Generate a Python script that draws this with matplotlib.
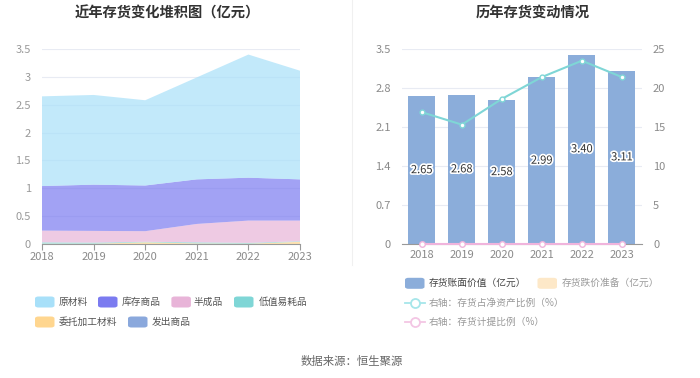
import matplotlib
matplotlib.use("Agg")
import matplotlib.pyplot as plt
from matplotlib.patches import FancyBboxPatch
from matplotlib.lines import Line2D
import matplotlib.patheffects as pe

plt.rcParams['font.family'] = ['Noto Sans CJK SC', 'DejaVu Sans']

# 数据
years = [2018, 2019, 2020, 2021, 2022, 2023]
yuancailiao = [1.61, 1.61, 1.53, 1.83, 2.21, 1.95]      # 原材料
kucun_shangpin = [0.80, 0.83, 0.82, 0.80, 0.77, 0.74]   # 库存商品
banchengpin = [0.21, 0.21, 0.19, 0.33, 0.40, 0.37]      # 半成品
dizhi_yihao = [0.025, 0.02, 0.01, 0.02, 0.015, 0.01]    # 低值易耗品
weituo_jiagong = [0.005, 0.005, 0.03, 0.01, 0.005, 0.04]  # 委托加工材料
fachu_shangpin = [0.0, 0.0, 0.0, 0.0, 0.0, 0.0]         # 发出商品

zhangmian = [2.65, 2.68, 2.58, 2.99, 3.40, 3.11]        # 存货账面价值（亿元）
dieja = [0, 0, 0, 0, 0, 0]                              # 存货跌价准备（亿元）
zhanbi = [16.9, 15.3, 18.6, 21.4, 23.5, 21.4]           # 存货占净资产比例（%）
jiti = [0, 0, 0, 0, 0, 0]                               # 存货计提比例（%）

area_names = ['原材料', '库存商品', '半成品', '低值易耗品', '委托加工材料', '发出商品']
area_colors = ['#a8e0f9', '#7b7bf0', '#e8b4d8', '#7fd6d6', '#ffd68f', '#8aa8dc']

grid_c = '#e8ebf3'
tick_c = '#8a8a8a'

fig = plt.figure(figsize=(7, 3.78), dpi=100)

# 左图：堆积面积
ax1 = fig.add_axes([0.06, 0.3545, 0.3686, 0.5159])
series = [yuancailiao, kucun_shangpin, banchengpin, dizhi_yihao, weituo_jiagong, fachu_shangpin]
ax1.stackplot(years, series[::-1], colors=area_colors[::-1], alpha=0.7, linewidth=0)
ax1.set_xlim(2018, 2023)
ax1.set_ylim(0, 3.5)
ax1.set_xticks(years)
ax1.set_yticks([0, 0.5, 1, 1.5, 2, 2.5, 3, 3.5])
ax1.set_yticklabels(['0', '0.5', '1', '1.5', '2', '2.5', '3', '3.5'])
ax1.grid(axis='y', color=grid_c, linewidth=0.8)
ax1.set_axisbelow(True)
for s in ['top', 'right', 'left']:
    ax1.spines[s].set_visible(False)
ax1.spines['bottom'].set_color('#999999')
ax1.tick_params(axis='y', length=0, labelsize=8, colors='#999999', pad=8)
ax1.tick_params(axis='x', length=4, color='#999999', labelsize=8, labelcolor=tick_c, pad=2)

# 右图：柱状 + 折线
ax2 = fig.add_axes([0.574, 0.3545, 0.343, 0.5159])
x = range(len(years))
bars = ax2.bar(x, zhangmian, width=0.68, color='#8badda', zorder=2)
for i, v in enumerate(zhangmian):
    ax2.text(i, v / 2, f'{v:.2f}', ha='center', va='center', fontsize=8, color='#333333',
             path_effects=[pe.withStroke(linewidth=2.4, foreground='white')], zorder=5)
ax2.set_xlim(-0.5, 5.5)
ax2.set_ylim(0, 3.5)
ax2.set_yticks([0, 0.7, 1.4, 2.1, 2.8, 3.5])
ax2.set_yticklabels(['0', '0.7', '1.4', '2.1', '2.8', '3.5'])
ax2.set_xticks(list(x))
ax2.set_xticklabels([str(y) for y in years])
ax2.grid(axis='y', color=grid_c, linewidth=0.8)
ax2.set_axisbelow(True)
for s in ['top', 'right', 'left']:
    ax2.spines[s].set_visible(False)
ax2.spines['bottom'].set_color('#999999')
ax2.tick_params(axis='y', length=0, labelsize=8, colors=tick_c, pad=8)
ax2.tick_params(axis='x', length=0, labelsize=8, labelcolor=tick_c, pad=4)

ax3 = ax2.twinx()
ax3.plot(list(x), zhanbi, color='#7fd6d6', linewidth=1.5, marker='o', markersize=3.5,
         markerfacecolor='white', markeredgecolor='#7fd6d6', zorder=4)
ax3.plot(list(x), jiti, color='#f0b4dc', linewidth=1.5, marker='o', markersize=4,
         markerfacecolor='white', markeredgecolor='#f0b4dc', zorder=4, clip_on=False)
ax3.set_ylim(0, 25)
ax3.set_yticks([0, 5, 10, 15, 20, 25])
for s in ['top', 'right', 'left', 'bottom']:
    ax3.spines[s].set_visible(False)
ax3.tick_params(axis='y', length=0, labelsize=8, colors=tick_c, pad=8)

# 标题
fig.text(167 / 700, 1 - 13 / 378, '近年存货变化堆积图（亿元）', ha='center', va='center',
         fontsize=10.3, fontweight='bold', color='#333333')
fig.text(533 / 700, 1 - 13 / 378, '历年存货变动情况', ha='center', va='center',
         fontsize=10.3, fontweight='bold', color='#333333')

# 分隔线
fig.add_artist(Line2D([352 / 700, 352 / 700], [1, 1 - 265 / 378], color='#f0f0f0', linewidth=0.8))


def swatch(px, py, color, w=19.5, h=11):
    fig.add_artist(FancyBboxPatch((px / 700, 1 - (py + h / 2) / 378), w / 700, h / 378,
                                  boxstyle='round,pad=0,rounding_size=0.005',
                                  facecolor=color, edgecolor='none', transform=fig.transFigure))


def label(px, py, txt, color='#555555'):
    fig.text(px / 700, 1 - py / 378, txt, ha='left', va='center', fontsize=7, color=color)


# 左图图例
left_items = [(35, 302, 59), (98, 302, 122), (171.4, 302, 194), (234, 302, 258.4),
              (35, 322, 59), (128, 322, 151.6)]
for (sx, sy, tx), name, c in zip(left_items, area_names, area_colors):
    swatch(sx, sy, c)
    label(tx, sy, name)

# 右图图例
swatch(405, 283.3, '#8badda')
label(428.4, 283.3, '存货账面价值（亿元）', '#444444')
swatch(537.5, 283.3, '#fde8c8')
label(562, 283.3, '存货跌价准备（亿元）', '#999999')
for py, c, txt in [(303.3, '#a6e6ea', '右轴：存货占净资产比例（%）'),
                   (322.3, '#f3c6e4', '右轴：存货计提比例（%）')]:
    fig.add_artist(Line2D([405 / 700, 424.5 / 700], [1 - py / 378, 1 - py / 378], color=c, linewidth=1.3))
    fig.add_artist(Line2D([414.7 / 700], [1 - py / 378], marker='o', markersize=6.5,
                          markerfacecolor='white', markeredgecolor=c, markeredgewidth=1.3))
    label(428.4, py, txt, '#999999')

# 数据来源
fig.text(352 / 700, 1 - 362 / 378, '数据来源：恒生聚源', ha='center', va='center',
         fontsize=8.2, color='#666666')

fig.savefig('out.png', dpi=100)
